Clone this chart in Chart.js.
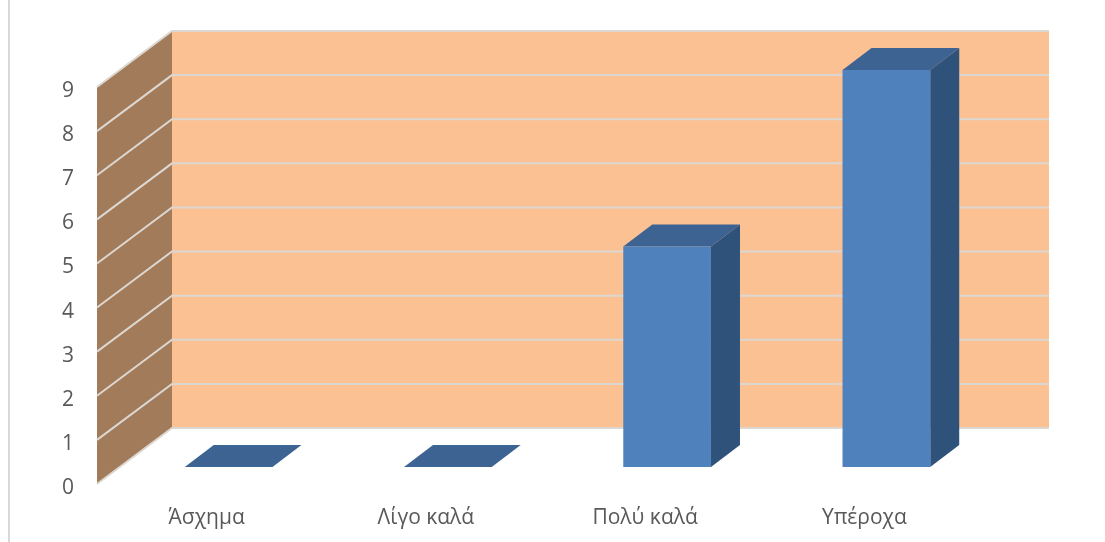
<!DOCTYPE html>
<html>
<head>
<meta charset="utf-8">
<style>
  html, body { margin: 0; background: #fff; }
  canvas { display: block; }
</style>
<script src="https://cdn.jsdelivr.net/npm/chart.js@4"></script>
</head>
<body>
<canvas id="chart" width="1105" height="542"></canvas>
<script>
const categories = ['Άσχημα', 'Λίγο καλά', 'Πολύ καλά', 'Υπέροχα'];
const values = [0, 0, 5, 9];
const yMax = 9;

// excel style 3d box, depth of the walls and of the bars
const wallDepth = { x: 75, y: -56 };
const barDepth = { x: 29, y: -22 };
const barShift = { x: 22, y: -17 };

const colors = {
    backWall: '#fbc192',
    sideWall: '#a27b5b',
    grid: '#dcd7d1',
    barFront: '#4f81bd',
    barSide: '#2f527a',
    barTop: '#3c6391',
    text: '#595959',
    frame: '#d9d9d9'
};

function polygon(ctx, points, fill) {
    ctx.beginPath();
    points.forEach((p, i) => i ? ctx.lineTo(p[0], p[1]) : ctx.moveTo(p[0], p[1]));
    ctx.closePath();
    ctx.fillStyle = fill;
    ctx.fill();
}

const walls3d = {
    id: 'walls3d',
    beforeDatasetsDraw(chart) {
        const { ctx, chartArea: area, scales: { y } } = chart;
        const dx = wallDepth.x, dy = wallDepth.y;

        ctx.save();
        // frame line on the left of the picture
        ctx.fillStyle = colors.frame;
        ctx.fillRect(8, 0, 2, chart.height);

        ctx.fillStyle = colors.backWall;
        ctx.fillRect(area.left + dx, area.top + dy, area.width, area.height);
        polygon(ctx, [
            [area.left, area.top],
            [area.left + dx, area.top + dy],
            [area.left + dx, area.bottom + dy],
            [area.left, area.bottom]
        ], colors.sideWall);

        ctx.strokeStyle = colors.grid;
        ctx.lineWidth = 2;
        y.ticks.forEach(t => {
            const py = y.getPixelForValue(t.value);
            ctx.beginPath();
            ctx.moveTo(area.left, py);
            ctx.lineTo(area.left + dx, py + dy);
            ctx.lineTo(area.right + dx, py + dy);
            ctx.stroke();
        });
        ctx.restore();
    },
    beforeDatasetDraw(chart, args) {
        const { ctx } = chart;
        const dx = barDepth.x, dy = barDepth.y;

        ctx.save();
        ctx.translate(barShift.x, barShift.y);
        chart.getDatasetMeta(args.index).data.forEach(bar => {
            const left = bar.x - bar.width / 2;
            const right = bar.x + bar.width / 2;
            if (bar.base > bar.y) {
                polygon(ctx, [
                    [right, bar.y],
                    [right + dx, bar.y + dy],
                    [right + dx, bar.base + dy],
                    [right, bar.base]
                ], colors.barSide);
            }
            polygon(ctx, [
                [left, bar.y],
                [left + dx, bar.y + dy],
                [right + dx, bar.y + dy],
                [right, bar.y]
            ], colors.barTop);
        });
    },
    afterDatasetDraw(chart) {
        chart.ctx.restore();
    }
};

new Chart(document.getElementById('chart'), {
    type: 'bar',
    data: {
        labels: categories,
        datasets: [{
            data: values,
            backgroundColor: colors.barFront,
            barPercentage: 0.4,
            categoryPercentage: 1,
            clip: false
        }]
    },
    options: {
        responsive: false,
        animation: false,
        layout: {
            padding: { top: 87, right: 131, left: 0, bottom: 0 }
        },
        plugins: {
            legend: { display: false },
            tooltip: { enabled: false }
        },
        scales: {
            x: {
                grid: { display: false },
                border: { display: false },
                ticks: {
                    color: colors.text,
                    font: { family: 'Open Sans', size: 21 },
                    padding: 13,
                    maxRotation: 0
                },
                afterFit: s => { s.height = 58; }
            },
            y: {
                min: 0,
                max: yMax,
                grid: { display: false },
                border: { display: false },
                ticks: {
                    stepSize: 1,
                    color: colors.text,
                    // empty first line pushes the digits a few px under the tick
                    callback: v => ['', String(v)],
                    font: { family: 'Open Sans', size: 21, lineHeight: '8px' },
                    padding: 15
                },
                afterFit: s => { s.width = 97; }
            }
        }
    },
    plugins: [walls3d]
});
</script>
</body>
</html>
